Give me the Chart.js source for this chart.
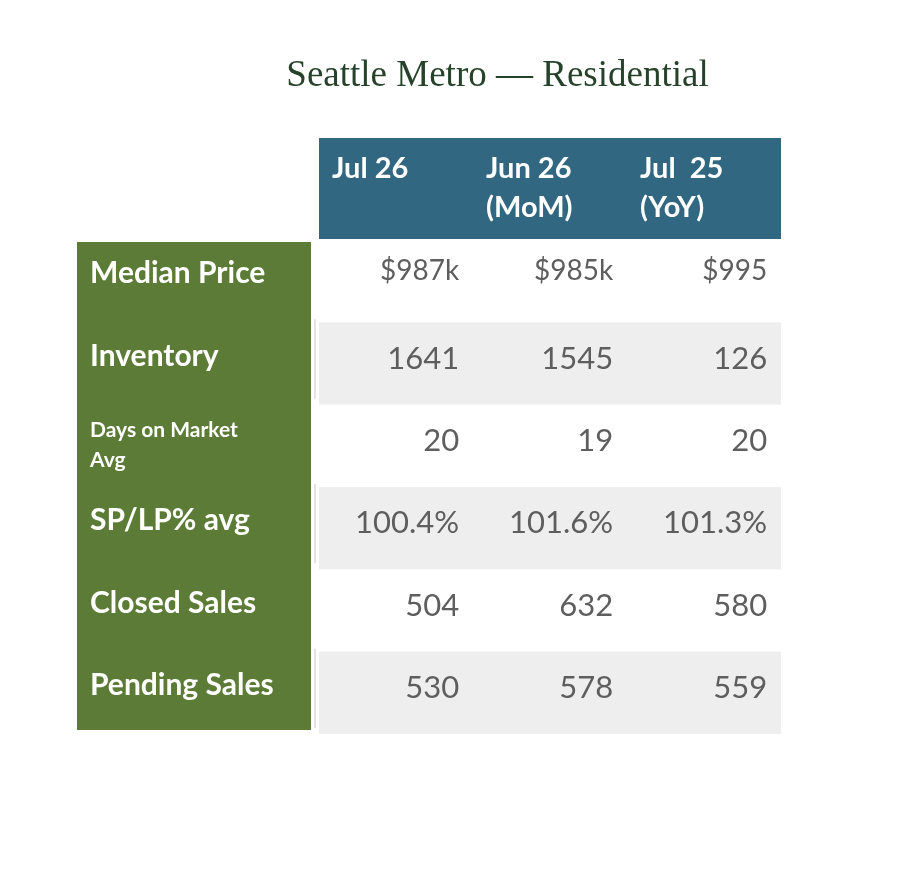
<!DOCTYPE html>
<html>
<head>
<meta charset="utf-8">
<script src="https://cdn.jsdelivr.net/npm/chart.js@4.4.0/dist/chart.umd.min.js"></script>
<style>
  html, body { margin: 0; padding: 0; background: #fff; }
  #wrap { position: absolute; left: 77px; top: 0; width: 841px; height: 872px; }
</style>
</head>
<body>
<div id="wrap"><canvas id="table"></canvas></div>
<script>
const title = "Seattle Metro \u2014 Residential";

// columns (x categories) and their header lines
const columns = ["Jul 26", "Jun 26 (MoM)", "Jul 25 (YoY)"];
const columnHeads = [["Jul 26"], ["Jun 26", "(MoM)"], ["Jul  25", "(YoY)"]];

// rows (y categories) and their label lines
const rows = ["Median Price", "Inventory", "Days on Market Avg", "SP/LP% avg", "Closed Sales", "Pending Sales"];
const rowHeads = [["Median Price"], ["Inventory"], ["Days on Market", "Avg"], ["SP/LP% avg"], ["Closed Sales"], ["Pending Sales"]];

// cell values, one array per column
const jul26 = ["$987k", "1641", "20", "100.4%", "504", "530"];
const jun26 = ["$985k", "1545", "19", "101.6%", "632", "578"];
const jul25 = ["$995", "126", "20", "101.3%", "580", "559"];
const values = [jul26, jun26, jul25];

const BLUE = "#326781";
const GREEN = "#5b7b36";
const STRIPE = "#eeeeee";
const TEXT = "#5e5e5e";

const tablePlugin = {
  id: "tableCells",
  beforeDatasetsDraw(chart) {
    const { ctx, chartArea: ca, scales: { x, y } } = chart;
    const bandW = x.width / columns.length;
    const bandH = y.height / rows.length;
    ctx.save();

    // title, centred on the whole canvas
    ctx.fillStyle = "#26422b";
    ctx.font = "37px 'Liberation Serif', serif";
    ctx.textAlign = "center";
    ctx.textBaseline = "alphabetic";
    ctx.fillText(title, chart.width / 2, ca.top - 154);

    // striped rows
    rows.forEach((r, i) => {
      if (i % 2 === 0) return;
      const cy = y.getPixelForValue(i);
      ctx.fillStyle = STRIPE;
      ctx.fillRect(ca.left, cy - bandH / 2, ca.width, bandH);
      ctx.fillStyle = "#e3e3e3";
      ctx.fillRect(ca.left - 5, cy - bandH / 2 - 3, 2, bandH - 3);
    });

    // header band
    ctx.fillStyle = BLUE;
    ctx.fillRect(ca.left, ca.top - 102, ca.width, 101);
    ctx.fillStyle = "#fff";
    ctx.font = "bold 29px Lato";
    ctx.textAlign = "left";
    columnHeads.forEach((lines, j) => {
      const left = x.getPixelForValue(j) - bandW / 2 + 13;
      lines.forEach((t, k) => ctx.fillText(t, left, ca.top - 62 + k * 39));
    });

    // row label column
    const labelLeft = ca.left - 242;
    ctx.fillStyle = GREEN;
    ctx.fillRect(labelLeft, ca.top + 2, 234, ca.height - 6);
    ctx.fillStyle = "#fff";
    rowHeads.forEach((lines, i) => {
      const cy = y.getPixelForValue(i);
      if (lines.length > 1) {
        ctx.font = "bold 21px Lato";
        lines.forEach((t, k) => ctx.fillText(t, labelLeft + 13, cy - 9 + k * 30));
      } else {
        ctx.font = "bold 30px Lato";
        ctx.fillText(lines[0], labelLeft + 13, cy + 2);
      }
    });
    ctx.restore();
  },
  afterDatasetsDraw(chart) {
    const { ctx, scales: { x } } = chart;
    const bandW = x.width / columns.length;
    ctx.save();
    ctx.fillStyle = TEXT;
    ctx.textAlign = "right";
    ctx.textBaseline = "alphabetic";
    chart.data.datasets.forEach((ds, j) => {
      chart.getDatasetMeta(j).data.forEach((pt, i) => {
        const first = i === 0;
        ctx.font = (first ? 28 : 31) + "px Lato";
        ctx.fillText(ds.cellText[i], pt.x + bandW * 0.41, pt.y + (first ? -1 : 5));
      });
    });
    ctx.restore();
  }
};

new Chart(document.getElementById("table"), {
  type: "scatter",
  data: {
    datasets: values.map((vals, j) => ({
      label: columns[j],
      data: rows.map(r => ({ x: columns[j], y: r })),
      cellText: vals,
      pointRadius: 0
    }))
  },
  options: {
    responsive: true,
    maintainAspectRatio: false,
    animation: false,
    events: [],
    layout: { padding: { left: 242, right: 137, top: 240, bottom: 138 } },
    scales: {
      x: { type: "category", labels: columns, offset: true, display: false },
      y: { type: "category", labels: rows, offset: true, display: false }
    },
    plugins: {
      legend: { display: false },
      tooltip: { enabled: false },
      title: { display: false }
    }
  },
  plugins: [tablePlugin]
});
</script>
</body>
</html>
